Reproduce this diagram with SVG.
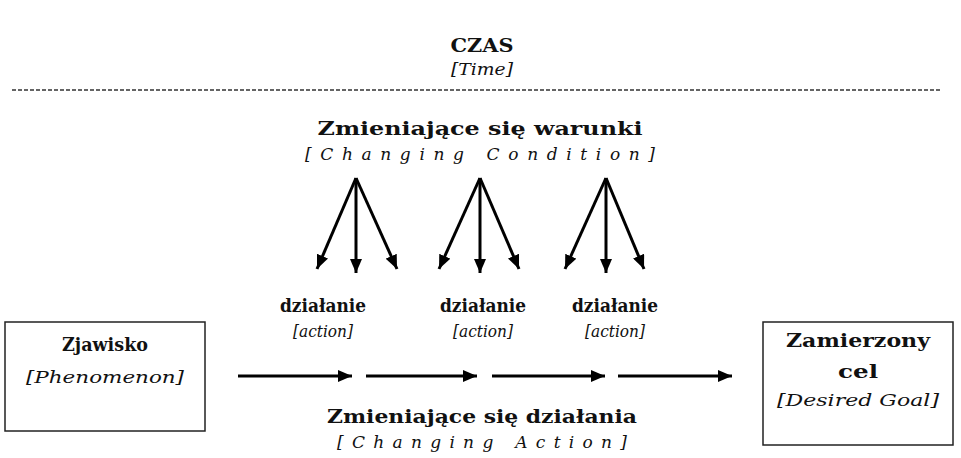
<svg xmlns="http://www.w3.org/2000/svg" width="961" height="458" viewBox="0 0 961 458">
<defs>
<style>
.b{font-family:"DejaVu Serif","Liberation Serif",serif;font-weight:bold;font-size:18px;fill:#111;text-anchor:middle}
.i{font-family:"DejaVu Serif","Liberation Serif",serif;font-style:italic;font-size:17px;fill:#111;text-anchor:middle}
.box{fill:#fff;stroke:#222;stroke-width:1.5}
.ar{stroke:#000;stroke-width:3;fill:none;marker-end:url(#ah)}
</style>
<marker id="ah" markerUnits="userSpaceOnUse" viewBox="0 0 14 12" refX="14" refY="6" markerWidth="14" markerHeight="12" orient="auto">
<path d="M0,0 L14,6 L0,12 Z" fill="#000"/>
</marker>
</defs>
<rect width="961" height="458" fill="#fff"/>
<g id="time">
<text class="b" x="482" y="52" textLength="63" lengthAdjust="spacingAndGlyphs">CZAS</text>
<text class="i" x="482" y="75" textLength="62" lengthAdjust="spacingAndGlyphs">[Time]</text>
</g>
<line x1="12" y1="90" x2="940" y2="90" stroke="#333" stroke-width="1.6" stroke-dasharray="4,2"/>
<g id="conditions">
<text class="b" x="480" y="135" textLength="325" lengthAdjust="spacingAndGlyphs">Zmieniające się warunki</text>
<text class="i" x="480" y="160" textLength="350" lengthAdjust="spacing">[Changing Condition]</text>
</g>
<g id="action1">
<text class="b" x="323" y="312" textLength="86" lengthAdjust="spacingAndGlyphs">działanie</text>
<text class="i" x="323" y="337" textLength="60" lengthAdjust="spacingAndGlyphs">[action]</text>
</g>
<g id="action2">
<text class="b" x="483" y="312" textLength="86" lengthAdjust="spacingAndGlyphs">działanie</text>
<text class="i" x="483" y="337" textLength="60" lengthAdjust="spacingAndGlyphs">[action]</text>
</g>
<g id="action3">
<text class="b" x="615" y="312" textLength="86" lengthAdjust="spacingAndGlyphs">działanie</text>
<text class="i" x="615" y="337" textLength="60" lengthAdjust="spacingAndGlyphs">[action]</text>
</g>
<g id="phenomenon">
<rect class="box" x="5" y="322" width="200" height="109"/>
<text class="b" x="105" y="351" textLength="86" lengthAdjust="spacingAndGlyphs">Zjawisko</text>
<text class="i" x="105" y="383" textLength="158" lengthAdjust="spacingAndGlyphs">[Phenomenon]</text>
</g>
<g id="goal">
<rect class="box" x="763" y="322" width="190" height="123"/>
<text class="b" x="858" y="347" textLength="144" lengthAdjust="spacingAndGlyphs">Zamierzony</text>
<text class="b" x="858" y="378" textLength="40" lengthAdjust="spacingAndGlyphs">cel</text>
<text class="i" x="858" y="406" textLength="162" lengthAdjust="spacingAndGlyphs">[Desired Goal]</text>
</g>
<g id="actions-label">
<text class="b" x="482" y="423" textLength="310" lengthAdjust="spacingAndGlyphs">Zmieniające się działania</text>
<text class="i" x="482" y="448" textLength="290" lengthAdjust="spacing">[Changing Action]</text>
</g>
<g id="connectors">
<path class="ar" d="M356,178 L317,269"/>
<path class="ar" d="M356,178 L356,273"/>
<path class="ar" d="M356,178 L397,269"/>
<path class="ar" d="M480,178 L439,269"/>
<path class="ar" d="M480,178 L480,273"/>
<path class="ar" d="M480,178 L519,269"/>
<path class="ar" d="M606,178 L565,269"/>
<path class="ar" d="M606,178 L606,273"/>
<path class="ar" d="M606,178 L644,269"/>
<path class="ar" d="M238,376 L352,376"/>
<path class="ar" d="M366,376 L477,376"/>
<path class="ar" d="M492,376 L605,376"/>
<path class="ar" d="M618,376 L732,376"/>
</g>
</svg>
